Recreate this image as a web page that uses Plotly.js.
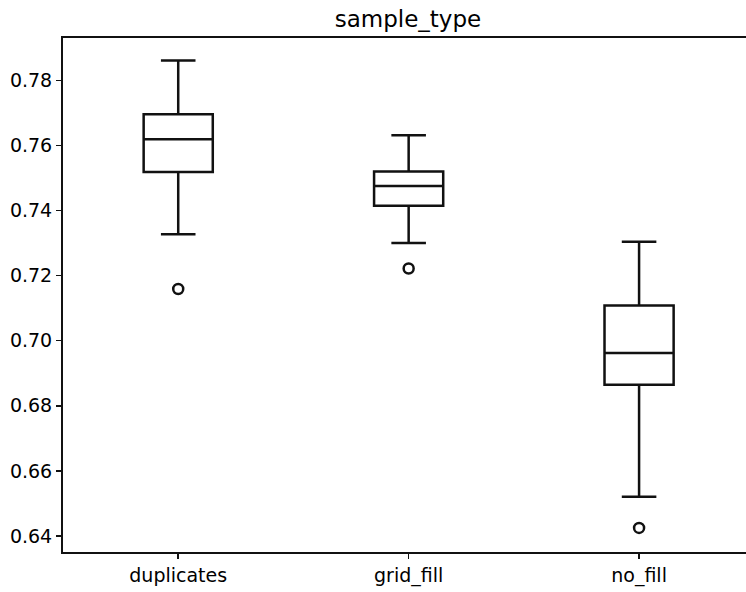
<!DOCTYPE html>
<html>
<head>
<meta charset="utf-8">
<script src="https://cdn.plot.ly/plotly-3.0.1.min.js"></script>
<style>html,body{margin:0;padding:0;background:#fff;}#chart{width:746px;height:592px;}</style>
</head>
<body>
<div id="chart"></div>
<script>
const categories = ['duplicates', 'grid_fill', 'no_fill'];
const q1 = [0.7518, 0.7415, 0.6865];
const medians = [0.7619, 0.7475, 0.6962];
const q3 = [0.7696, 0.7520, 0.7108];
const lowerWhisker = [0.7327, 0.7300, 0.6521];
const upperWhisker = [0.7861, 0.7631, 0.7304];
const outlierCats = ['duplicates', 'grid_fill', 'no_fill'];
const outlierValues = [0.7159, 0.7222, 0.6425];
const yTicks = [0.64, 0.66, 0.68, 0.70, 0.72, 0.74, 0.76, 0.78];

const font = 'DejaVu Sans, Liberation Sans, sans-serif';

const traces = [
  {
    type: 'box',
    x: categories,
    q1: q1,
    median: medians,
    q3: q3,
    lowerfence: lowerWhisker,
    upperfence: upperWhisker,
    width: 0.3,
    whiskerwidth: 0.5,
    boxpoints: false,
    fillcolor: 'rgba(0,0,0,0)',
    line: {color: '#111111', width: 2.5},
    showlegend: false,
    hoverinfo: 'skip'
  },
  {
    type: 'scatter',
    mode: 'markers',
    x: outlierCats,
    y: outlierValues,
    marker: {symbol: 'circle-open', size: 10, color: '#111111', line: {width: 2.5, color: '#111111'}},
    showlegend: false,
    hoverinfo: 'skip'
  }
];

const layout = {
  width: 746,
  height: 592,
  margin: {l: 63, r: 0, t: 38, b: 40, pad: 0},
  paper_bgcolor: '#ffffff',
  plot_bgcolor: '#ffffff',
  font: {family: font, color: '#000000', size: 19},
  title: {
    text: 'sample_type',
    font: {family: font, size: 23, color: '#000000'},
    xref: 'container', x: 408 / 746, xanchor: 'center',
    yref: 'container', y: 1 - 19 / 592, yanchor: 'middle'
  },
  xaxis: {
    type: 'category',
    categoryorder: 'array',
    categoryarray: categories,
    range: [-0.5, 2.464],
    showline: true, linecolor: '#111111', linewidth: 2,
    mirror: true,
    ticks: 'outside', ticklen: 5, tickwidth: 1.5, tickcolor: '#111111',
    showgrid: false, zeroline: false,
    tickfont: {family: font, size: 19, color: '#000000'}
  },
  yaxis: {
    range: [0.6351, 0.7930],
    tickmode: 'array',
    tickvals: yTicks,
    ticktext: yTicks.map(v => v.toFixed(2)),
    showline: true, linecolor: '#111111', linewidth: 2,
    mirror: false,
    ticks: 'outside', ticklen: 5, tickwidth: 1.5, tickcolor: '#111111',
    showgrid: false, zeroline: false,
    tickfont: {family: font, size: 19, color: '#000000'}
  }
};

Plotly.newPlot('chart', traces, layout, {staticPlot: true, displayModeBar: false});
</script>
</body>
</html>
